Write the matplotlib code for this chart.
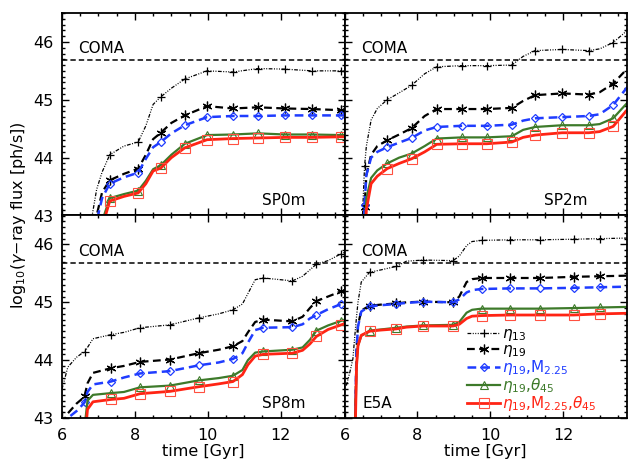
import numpy as np
import matplotlib
matplotlib.use("Agg")
import matplotlib.pyplot as plt
from matplotlib.ticker import MultipleLocator

nan = float("nan")

# ---------------- data ----------------
panel_names = ["SP0m", "SP2m", "SP8m", "E5A"]
coma_level = 45.68

# SP0m
t_sp0m = [6.80, 6.95, 7.10, 7.31, 7.70, 8.09, 8.30, 8.50, 8.71, 9.00, 9.37, 9.98,
          10.69, 11.38, 12.11, 12.86, 13.66, 13.75]
mk_sp0m = [7.31, 8.09, 8.71, 9.37, 9.98, 10.69, 11.38, 12.11, 12.86, 13.66]
sp0m_eta13 = [42.9, 43.45, 43.75, 44.05, 44.20, 44.27, 44.55, 44.92, 45.05, 45.20, 45.36, 45.50,
              45.48, 45.54, 45.53, 45.50, 45.50, 45.50]
sp0m_eta19 = [42.0, 43.0, 43.40, 43.61, 43.72, 43.81, 44.05, 44.32, 44.43, 44.60, 44.73, 44.89,
              44.85, 44.87, 44.85, 44.84, 44.82, 44.82]
sp0m_m225 = [42.0, 42.9, 43.30, 43.55, 43.66, 43.74, 43.98, 44.18, 44.27, 44.42, 44.56, 44.70,
             44.72, 44.72, 44.73, 44.73, 44.73, 44.73]
sp0m_th45 = [42.0, 42.0, 42.9, 43.30, 43.37, 43.43, 43.60, 43.80, 43.87, 44.05, 44.24, 44.39,
             44.40, 44.42, 44.40, 44.40, 44.39, 44.39]
sp0m_all = [42.0, 42.0, 42.8, 43.25, 43.33, 43.39, 43.55, 43.77, 43.82, 44.00, 44.17, 44.31,
            44.33, 44.34, 44.35, 44.35, 44.36, 44.36]

# SP2m
t_sp2m = [6.48, 6.55, 6.60, 6.73, 6.90, 7.17, 7.50, 7.84, 8.20, 8.53, 9.21, 9.90, 10.59,
          10.90, 11.23, 11.97, 12.70, 13.00, 13.37, 13.76]
mk_sp2m = [6.55, 7.17, 7.84, 8.53, 9.21, 9.90, 10.59, 11.23, 11.97, 12.70, 13.37]
sp2m_eta13 = [42.8, 43.85, 44.20, 44.65, 44.85, 45.00, 45.12, 45.25, 45.45, 45.57, 45.59, 45.59, 45.60,
              45.75, 45.85, 45.87, 45.85, 45.88, 45.99, 46.20]
sp2m_eta19 = [42.0, 43.15, 43.70, 44.05, 44.20, 44.30, 44.40, 44.51, 44.72, 44.84, 44.84, 44.84, 44.86,
              44.98, 45.08, 45.11, 45.09, 45.13, 45.28, 45.54]
sp2m_m225 = [42.0, 43.19, 43.70, 44.00, 44.10, 44.18, 44.26, 44.34, 44.47, 44.53, 44.55, 44.55, 44.57,
             44.64, 44.68, 44.70, 44.72, 44.75, 44.91, 45.22]
sp2m_th45 = [42.0, 42.6, 43.30, 43.65, 43.78, 43.90, 44.00, 44.07, 44.20, 44.33, 44.35, 44.35, 44.37,
             44.48, 44.53, 44.56, 44.56, 44.58, 44.68, 44.95]
sp2m_all = [42.0, 42.4, 43.10, 43.55, 43.68, 43.81, 43.90, 43.98, 44.10, 44.23, 44.24, 44.24, 44.27,
            44.35, 44.39, 44.43, 44.43, 44.45, 44.54, 44.83]

# SP8m
t_sp8m = [6.00, 6.16, 6.40, 6.55, 6.62, 6.70, 6.85, 7.34, 7.70, 8.14, 8.96, 9.75, 10.30, 10.69,
          10.95, 11.10, 11.30, 11.52, 12.32, 12.60, 12.80, 12.98, 13.30, 13.66, 13.75]
mk_sp8m = [6.62, 7.34, 8.14, 8.96, 9.75, 10.69, 11.52, 12.32, 12.98, 13.66]
sp8m_eta13 = [43.50, 43.88, 44.05, 44.12, 44.14, 44.22, 44.37, 44.44, 44.48, 44.56, 44.61, 44.73, 44.80, 44.87,
              44.97, 45.15, 45.39, 45.42, 45.37, 45.45, 45.56, 45.66, 45.72, 45.84, 45.86]
sp8m_eta19 = [42.90, 43.08, 43.25, 43.33, 43.38, 43.60, 43.78, 43.86, 43.90, 43.97, 44.01, 44.12, 44.18, 44.24,
              44.33, 44.48, 44.66, 44.70, 44.67, 44.75, 44.90, 45.02, 45.10, 45.19, 45.20]
sp8m_m225 = [42.85, 43.00, 43.12, 43.22, 43.27, 43.45, 43.58, 43.63, 43.70, 43.77, 43.81, 43.91, 43.96, 44.02,
             44.12, 44.30, 44.52, 44.56, 44.57, 44.62, 44.72, 44.78, 44.88, 44.97, 44.99]
sp8m_th45 = [42.0, 42.0, 42.0, 42.0, 42.85, 43.30, 43.40, 43.43, 43.45, 43.53, 43.56, 43.65, 43.69, 43.73,
             43.83, 44.00, 44.13, 44.15, 44.18, 44.22, 44.35, 44.51, 44.60, 44.68, 44.70]
sp8m_all = [42.0, 42.0, 42.0, 42.0, 42.60, 43.15, 43.28, 43.32, 43.34, 43.42, 43.46, 43.54, 43.59, 43.63,
            43.75, 43.92, 44.07, 44.10, 44.12, 44.17, 44.28, 44.41, 44.53, 44.61, 44.63]

# E5A
t_e5a = [6.00, 6.05, 6.15, 6.23, 6.28, 6.33, 6.37, 6.46, 6.69, 7.00, 7.42, 7.70, 8.16, 8.98,
         9.15, 9.35, 9.50, 9.76, 10.55, 11.37, 12.29, 13.02, 13.75]
mk_e5a = [6.69, 7.42, 8.16, 8.98, 9.76, 10.55, 11.37, 12.29, 13.02]
e5a_eta13 = [nan, 43.56, 43.80, 44.02, 44.40, 44.75, 45.00, 45.35, 45.52, 45.56, 45.62, 45.71, 45.73, 45.72,
             45.80, 45.98, 46.05, 46.07, 46.08, 46.08, 46.09, 46.10, 46.11]
e5a_eta19 = [42.0, 42.0, 42.0, 42.0, 42.5, 44.20, 44.60, 44.86, 44.94, 44.96, 44.98, 45.00, 45.01, 45.00,
             45.10, 45.35, 45.40, 45.42, 45.42, 45.42, 45.44, 45.45, 45.46]
e5a_m225 = [42.0, 42.0, 42.0, 42.0, 42.5, 44.18, 44.58, 44.84, 44.93, 44.95, 44.97, 44.99, 45.01, 45.00,
            45.05, 45.17, 45.21, 45.23, 45.24, 45.24, 45.25, 45.26, 45.27]
e5a_th45 = [42.0, 42.0, 42.0, 42.0, 42.3, 43.90, 44.25, 44.42, 44.51, 44.53, 44.56, 44.58, 44.60, 44.61,
            44.66, 44.82, 44.87, 44.89, 44.89, 44.89, 44.90, 44.91, 44.92]
e5a_all = [42.0, 42.0, 42.0, 42.0, 42.3, 43.90, 44.25, 44.43, 44.50, 44.52, 44.54, 44.57, 44.59, 44.59,
           44.62, 44.72, 44.76, 44.77, 44.78, 44.78, 44.78, 44.80, 44.81]

series_labels = [r'$\eta_{13}$', r'$\eta_{19}$', r'$\eta_{19}$,M$_{2.25}$',
                 r'$\eta_{19}$,$\theta_{45}$', r'$\eta_{19}$,M$_{2.25}$,$\theta_{45}$']

panels = [
    (t_sp0m, mk_sp0m, [sp0m_eta13, sp0m_eta19, sp0m_m225, sp0m_th45, sp0m_all]),
    (t_sp2m, mk_sp2m, [sp2m_eta13, sp2m_eta19, sp2m_m225, sp2m_th45, sp2m_all]),
    (t_sp8m, mk_sp8m, [sp8m_eta13, sp8m_eta19, sp8m_m225, sp8m_th45, sp8m_all]),
    (t_e5a, mk_e5a, [e5a_eta13, e5a_eta19, e5a_m225, e5a_th45, e5a_all]),
]

# ---------------- styles ----------------
BLUE = '#1f3cff'
GREEN = '#3d7a2a'
RED = '#ff2414'
styles = [
    dict(color='black', lw=0.9, ls=(0, (3, 1.2, 0.8, 1.2, 0.8, 1.2, 0.8, 1.2)),
         marker='+', ms=6, mew=0.9),
    dict(color='black', lw=1.6, ls=(0, (3.5, 2)), marker=(6, 2, 0), ms=7, mew=0.9),
    dict(color=BLUE, lw=1.8, ls=(0, (3.5, 2)), marker='D', ms=4.5, mew=0.9, mfc='none'),
    dict(color=GREEN, lw=1.6, ls='-', marker='^', ms=6, mew=0.8, mfc='none'),
    dict(color=RED, lw=2.0, ls='-', marker='s', ms=6.5, mew=0.8, mfc='none', mec='#ff5040'),
]

plt.rcParams['font.family'] = ['DejaVu Sans']
plt.rcParams['mathtext.fontset'] = 'dejavusans'

fig, axes = plt.subplots(2, 2, figsize=(6.3, 4.66), dpi=100, sharex=True, sharey=True)
fig.subplots_adjust(left=62/630, right=627/630, top=1-13/466, bottom=1-418/466,
                    wspace=0, hspace=0)

for k, (ax, (t, mk, vals)) in enumerate(zip(axes.flat, panels)):
    t_arr = np.array(t)
    idx = list(np.where(np.isin(np.round(t_arr, 2), np.round(mk, 2)))[0])
    handles = []
    for v, st, lab in zip(vals, styles, series_labels):
        h, = ax.plot(t_arr, v, markevery=idx, label=lab, **st)
        handles.append(h)
    ax.axhline(coma_level, color='black', lw=1.1, ls=(0, (3.5, 2)))
    ax.text(6.45, coma_level + 0.07, 'COMA', fontsize=11, ha='left', va='bottom')
    if k == 3:
        ax.text(0.065, 0.05, panel_names[k], transform=ax.transAxes, fontsize=11,
                ha='left', va='baseline')
        leg = ax.legend(handles=handles, loc='lower left', bbox_to_anchor=(0.395, -0.03),
                        frameon=False, fontsize=11, handlelength=2.2, handletextpad=0.1,
                        labelspacing=-0.06, markerscale=1.0, labelcolor='linecolor',
                        borderpad=0.2)
    else:
        ax.text(0.707, 0.05, panel_names[k], transform=ax.transAxes, fontsize=11,
                ha='left', va='baseline')

    ax.set_xlim(6, 13.75)
    ax.set_ylim(43, 46.5)
    ax.xaxis.set_major_locator(MultipleLocator(2))
    ax.xaxis.set_minor_locator(MultipleLocator(0.5))
    ax.yaxis.set_major_locator(MultipleLocator(1))
    ax.yaxis.set_minor_locator(MultipleLocator(0.1))
    ax.tick_params(which='both', direction='in', top=True, right=True, labelsize=11.5,
                   width=1.0)
    ax.tick_params(which='major', length=5)
    ax.tick_params(which='minor', length=2.5)
    for s in ax.spines.values():
        s.set_linewidth(1.3)

for ax in axes[1]:
    ax.set_xlabel('time [Gyr]', fontsize=11.5, labelpad=1)
    ax.tick_params(axis='x', pad=7)
for ax in axes[:, 0]:
    ax.tick_params(axis='y', pad=6)

fig.text(0.03, 1 - 215/466, r'log$_{10}$($\gamma$$-$ray flux [ph/s])', rotation=90,
         fontsize=11.5, ha='center', va='center')

fig.savefig('out.png', dpi=100)
